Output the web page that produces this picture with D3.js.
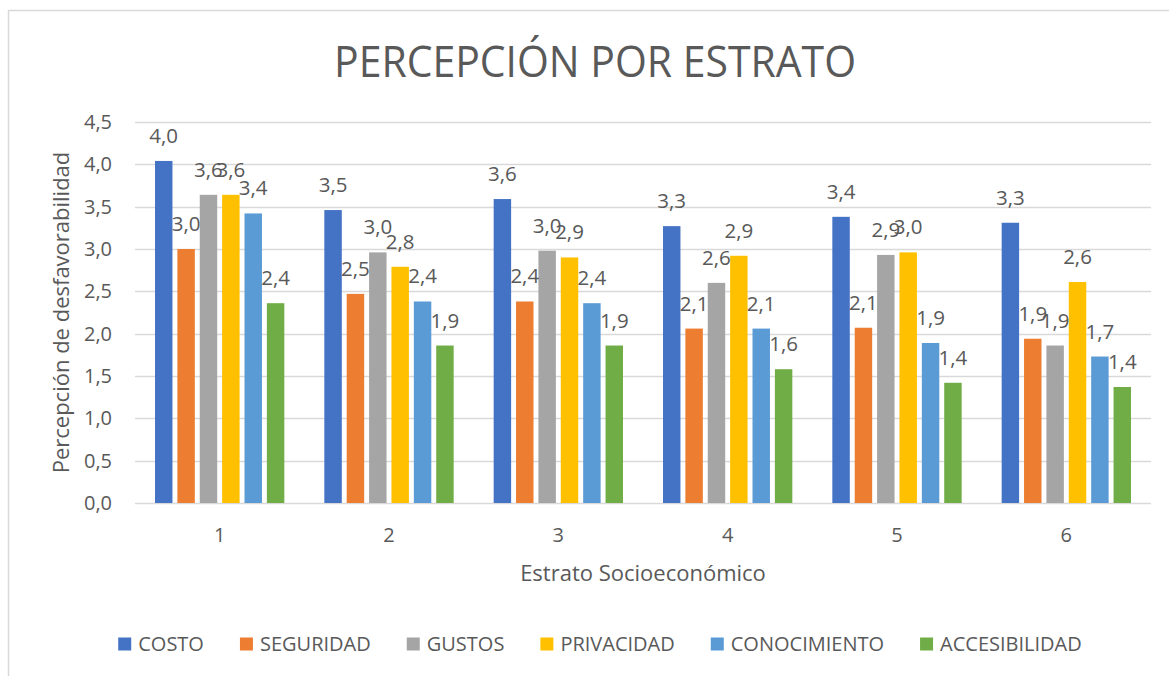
<!DOCTYPE html>
<html><head><meta charset="utf-8">
<script src="https://cdn.jsdelivr.net/npm/d3@7"></script>
<style>
body{margin:0;background:#fff;}
text{font-family:"Open Sans",sans-serif;fill:#595959;}
</style></head>
<body>
<svg id="chart" width="1169" height="676"></svg>
<script>
const categories = ["1","2","3","4","5","6"];
const seriesNames = ["COSTO","SEGURIDAD","GUSTOS","PRIVACIDAD","CONOCIMIENTO","ACCESIBILIDAD"];
const seriesColors = ["#4472C4","#ED7D31","#A5A5A5","#FFC000","#5B9BD5","#70AD47"];
const costo        = [4.04, 3.46, 3.59, 3.27, 3.38, 3.31];
const seguridad    = [3.00, 2.47, 2.38, 2.06, 2.07, 1.94];
const gustos       = [3.64, 2.96, 2.98, 2.60, 2.93, 1.86];
const privacidad   = [3.64, 2.79, 2.90, 2.92, 2.96, 2.61];
const conocimiento = [3.42, 2.38, 2.36, 2.06, 1.89, 1.73];
const accesibilidad= [2.36, 1.86, 1.86, 1.58, 1.42, 1.37];
const yTicks = [0,0.5,1,1.5,2,2.5,3,3.5,4,4.5];
const title = "PERCEPCIÓN POR ESTRATO";
const xTitle = "Estrato Socioeconómico";
const yTitle = "Percepción de desfavorabilidad";

const values = [costo, seguridad, gustos, privacidad, conocimiento, accesibilidad];
const fmt = v => v.toFixed(1).replace(".", ",");

const svg = d3.select("#chart");
const W = 1169, H = 676;
const m = {left:135, right:1151, top:122, bottom:503};

// chart border
svg.append("rect").attr("x",8.5).attr("y",10.5).attr("width",W+20).attr("height",H+20)
  .attr("fill","#fff").attr("stroke","#d9d9d9").attr("stroke-width",1.5);

const x0 = d3.scaleBand().domain(categories).range([m.left, m.right]).padding(0);
const x1 = d3.scaleBand().domain(seriesNames).range([20, x0.bandwidth()-20]).paddingInner(0.22);
const y = d3.scaleLinear().domain([0,4.5]).range([m.bottom, m.top]);

// gridlines
svg.append("g").selectAll("line").data(yTicks).join("line")
  .attr("x1", m.left).attr("x2", m.right)
  .attr("y1", d=>Math.round(y(d))+0.5).attr("y2", d=>Math.round(y(d))+0.5)
  .attr("stroke","#d9d9d9").attr("stroke-width",1.3);

// y tick labels
svg.append("g").selectAll("text").data(yTicks).join("text")
  .attr("x", 112).attr("y", d=>y(d)).attr("dy","0.35em")
  .attr("text-anchor","end").style("font-size","20px")
  .text(d=>fmt(d));

// x tick labels
svg.append("g").selectAll("text").data(categories).join("text")
  .attr("x", d=>x0(d)+x0.bandwidth()/2).attr("y", 535).attr("dy","0.35em")
  .attr("text-anchor","middle").style("font-size","20px")
  .text(d=>d);

// bars
const groups = svg.append("g").selectAll("g").data(seriesNames).join("g")
  .attr("fill",(d,i)=>seriesColors[i]);
groups.each(function(s, si){
  const g = d3.select(this);
  g.selectAll("rect").data(values[si]).join("rect")
    .attr("x",(d,ci)=>x0(categories[ci])+x1(s))
    .attr("width", x1.bandwidth())
    .attr("y", d=>y(d))
    .attr("height", d=>y(0)-y(d));
});
// labels
const labels = svg.append("g");
seriesNames.forEach((s,si)=>{
  labels.selectAll(null).data(values[si]).join("text")
    .attr("x",(d,ci)=>x0(categories[ci])+x1(s)+x1.bandwidth()/2)
    .attr("y", d=>y(d)-18)
    .attr("text-anchor","middle").style("font-size","20.5px")
    .text(d=>fmt(d));
});

// title
svg.append("text").attr("x",595).attr("y",77).attr("text-anchor","middle")
  .style("font-size","43px").attr("textLength",522).attr("lengthAdjust","spacingAndGlyphs").text(title);
// axis titles
svg.append("text").attr("x",(m.left+m.right)/2).attr("y",581).attr("text-anchor","middle")
  .style("font-size","22px").text(xTitle);
svg.append("text").attr("transform",`translate(69,${(m.top+m.bottom)/2}) rotate(-90)`)
  .attr("text-anchor","middle").style("font-size","22px").text(yTitle);

// legend
const leg = svg.append("g");
const legGap = 36;
let lx = 0;
seriesNames.forEach((s,i)=>{
  const g = leg.append("g").attr("transform",`translate(${lx},0)`);
  g.append("rect").attr("x",0).attr("y",-6.5).attr("width",13).attr("height",13).attr("fill",seriesColors[i]);
  const t = g.append("text").attr("x",20).attr("y",0).attr("dy","0.35em").style("font-size","20px").text(s);
  lx += 20 + t.node().getComputedTextLength() + legGap;
});
const legW = lx - legGap;
leg.attr("transform",`translate(${600-legW/2},644)`);
</script>
</body></html>
